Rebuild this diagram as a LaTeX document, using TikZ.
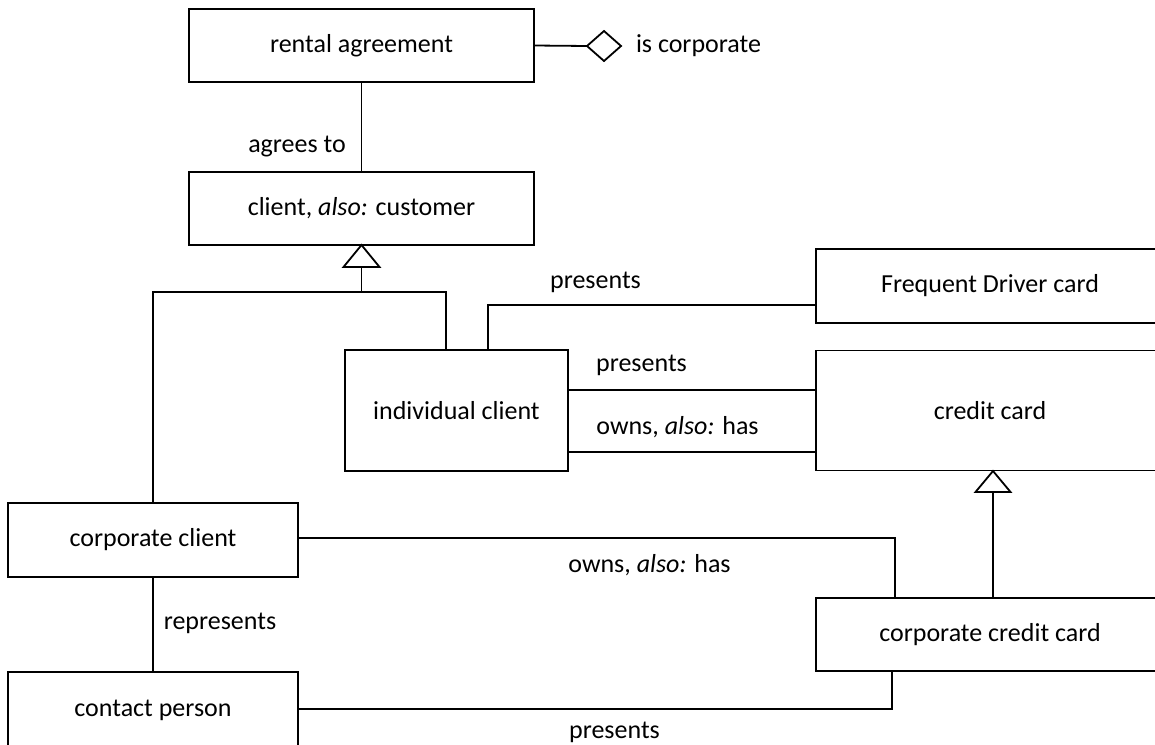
\documentclass[tikz,border=0pt]{standalone}
\usepackage{fontspec}
\setmainfont{Carlito}
\usetikzlibrary{shapes.geometric}
\begin{document}
\begin{tikzpicture}[x=1pt,y=-1pt,
  line width=1.8pt,
  every node/.style={font=\fontsize{26}{31}\selectfont},
  box/.style={draw,rectangle,inner sep=0pt,outer sep=0pt,line width=1.8pt},
  lbl/.style={inner sep=0pt,outer sep=0pt}]
\useasboundingbox (0,0) rectangle (1155,744);
\clip (0,0) rectangle (1155,744);
% boxes
\node[box,minimum width=345pt,minimum height=73pt] (ra)  at (361.5,45.5) {rental agreement};
\node[box,minimum width=345pt,minimum height=73pt] (cl)  at (361.5,208.5) {client, \textit{also:} customer};
\node[box,minimum width=223pt,minimum height=121pt] (ic) at (456.5,410.5) {individual client};
\node[box,minimum width=348pt,minimum height=74pt] (fd)  at (990,286) {Frequent Driver card};
\node[box,minimum width=348pt,minimum height=120pt] (cc) at (990,410.5) {credit card};
\node[box,minimum width=290pt,minimum height=74pt] (cor) at (153,540) {corporate client};
\node[box,minimum width=290pt,minimum height=76pt] (cp)  at (153,710) {contact person};
\node[box,minimum width=348pt,minimum height=73pt] (ccc) at (990,634.5) {corporate credit card};
% attribute diamond
\node[draw,diamond,inner sep=0pt,outer sep=0pt,minimum width=34pt,minimum height=30pt,line width=1.8pt] (dia) at (604,46) {};
\draw (ra.east) -- (dia.west);
\node[lbl,anchor=west] (isc) at (636,46) {is corporate};
% agrees to
\draw (ra.south) -- (cl.north);
\node[lbl] (agr) at (297,147) {agrees to};
% generalization client
\coordinate (g1) at (361.5,267);
\coordinate (bus) at (361.5,292);
\coordinate (busl) at (153,292);
\coordinate (busr) at (446,292);
\coordinate (icin) at (446,350);
\draw (cl.south) -- (343.5,267) -- (379.5,267) -- cycle;
\draw (g1) -- (bus);
\draw (cor.north) -- (busl) -- (busr) -- (icin);
% frequent driver presents
\coordinate (fd1) at (488,350);
\coordinate (fd2) at (488,305);
\coordinate (fd3) at (816,305);
\draw (fd1) -- (fd2) -- (fd3);
\node[lbl] (pr1) at (595.5,282) {presents};
% individual client - credit card
\coordinate (ic1) at (568,390);
\coordinate (cc1) at (816,390);
\coordinate (ic2) at (568,452);
\coordinate (cc2) at (816,452);
\draw (ic1) -- (cc1);
\draw (ic2) -- (cc2);
\node[lbl] (pr2) at (641.5,365) {presents};
\node[lbl] (ow1) at (677.5,427) {owns, \textit{also:} has};
% corporate client owns ccc
\coordinate (co1) at (298,538);
\coordinate (co2) at (895,538);
\coordinate (co3) at (895,598);
\draw (co1) -- (co2) -- (co3);
\node[lbl] (ow2) at (649.5,565) {owns, \textit{also:} has};
% represents
\draw (cor.south) -- (cp.north);
\node[lbl] (rep) at (220,623) {represents};
% contact person presents ccc
\coordinate (cp1) at (298,709);
\coordinate (cp2) at (892,709);
\coordinate (cp3) at (892,671);
\draw (cp1) -- (cp2) -- (cp3);
\node[lbl] (pr3) at (614.5,732) {presents};
% generalization credit card
\coordinate (t1) at (993,471);
\coordinate (t2) at (993,492);
\coordinate (t3) at (993,598);
\draw (t1) -- (975.5,492) -- (1010.5,492) -- cycle;
\draw (t2) -- (t3);
\end{tikzpicture}
\end{document}
